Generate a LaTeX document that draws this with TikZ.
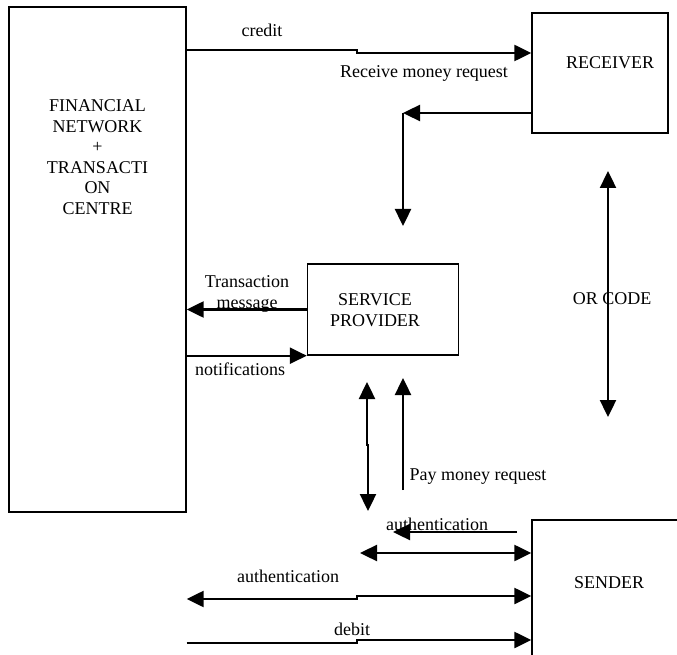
\documentclass[tikz,border=0pt]{standalone}
\usepackage{fontspec}
\setmainfont{Liberation Serif}
\usetikzlibrary{arrows.meta}

\begin{document}
\begin{tikzpicture}[
  x=1pt, y=-1pt,
  font=\fontsize{18}{20.5}\selectfont,
  box/.style={draw, line width=1.4pt, inner sep=0pt},
  lbl/.style={inner sep=0pt, align=center},
  arr/.style={-{Triangle[length=17pt,width=16pt]}, line width=2.4pt},
  darr/.style={{Triangle[length=17pt,width=16pt]}-{Triangle[length=17pt,width=16pt]}, line width=2.4pt}
]
\useasboundingbox (0,0) rectangle (677,655);
\clip (0,0) rectangle (677,655);

% --- boxes ---
\node[box, minimum width=177pt, minimum height=505pt] (fin) at (97.5,259.5) {};
\node[lbl] (fintxt) at (97.5,157) {FINANCIAL\\NETWORK\\+\\TRANSACTI\\ON\\CENTRE};
\node[box, minimum width=136pt, minimum height=120pt] (rcv) at (600,73) {};
\node[lbl] (rcvtxt) at (610,63) {RECEIVER};
\node[box, minimum width=151pt, minimum height=91pt] (sp) at (383,309.5) {};
\node[lbl] (sptxt) at (375,310) {SERVICE\\PROVIDER};
\node[box, minimum width=160pt, minimum height=160pt] (snd) at (612,600) {};
\node[lbl] (sndtxt) at (609,583) {SENDER};

% --- network <-> receiver ---
\coordinate (credA) at (357,50);
\coordinate (credB) at (357,53);
\draw[arr] (fin.east |- credA) -- (credA) -- (credB) -- (rcv.west |- credB);
\node[lbl] (credit) at (262,30) {credit};
\node[lbl] (rmr) at (424,73) {Receive money request};

% --- receiver -> service provider ---
\coordinate (bend) at (403,113);
\coordinate (rdown) at (403,226);
\draw[arr] (rcv.west |- bend) -- (bend);
\draw[arr] (bend) -- (rdown);

% --- service provider <-> network ---
\draw[arr] (sp.west) -- (fin.east |- sp.west);
\node[lbl] (tmsg) at (247,294) {Transaction\\message};
\draw[arr] (fin.east |- sp.south west) -- (sp.south west);
\node[lbl] (notif) at (240,369) {notifications};

% --- sender <-> service provider ---
\coordinate (vdA) at (367,382);
\coordinate (vdB) at (367,445);
\coordinate (vdC) at (368,445);
\coordinate (vdD) at (368,511);
\draw[darr] (vdA) -- (vdB) -- (vdC) -- (vdD);
\coordinate (upA) at (403,490);
\coordinate (upB) at (403,378);
\draw[arr] (upA) -- (upB);
\node[lbl] (pmr) at (478,477) {Pay money request};

% --- QR code link ---
\coordinate (qrA) at (608,171);
\coordinate (qrB) at (608,417);
\draw[darr] (qrA) -- (qrB);
\node[lbl] (qr) at (612,299) {OR CODE};

% --- arrows at sender ---
\coordinate (auA) at (517,532);
\coordinate (auB) at (393,532);
\draw[arr] (auA) -- (auB);
\node[lbl] (auth1) at (437,524) {authentication};
\coordinate (dbA) at (360,553);
\draw[darr] (dbA) -- (snd.west |- dbA);

\coordinate (a2A) at (357,599);
\coordinate (a2B) at (357,596);
\draw[darr] (fin.east |- a2A) -- (a2A) -- (a2B) -- (snd.west |- a2B);
\node[lbl] (auth2) at (288,576) {authentication};
\coordinate (deA) at (357,643);
\coordinate (deB) at (357,640);
\draw[arr] (fin.east |- deA) -- (deA) -- (deB) -- (snd.west |- deB);
\node[lbl] (debit) at (352,629) {debit};

\end{tikzpicture}
\end{document}
